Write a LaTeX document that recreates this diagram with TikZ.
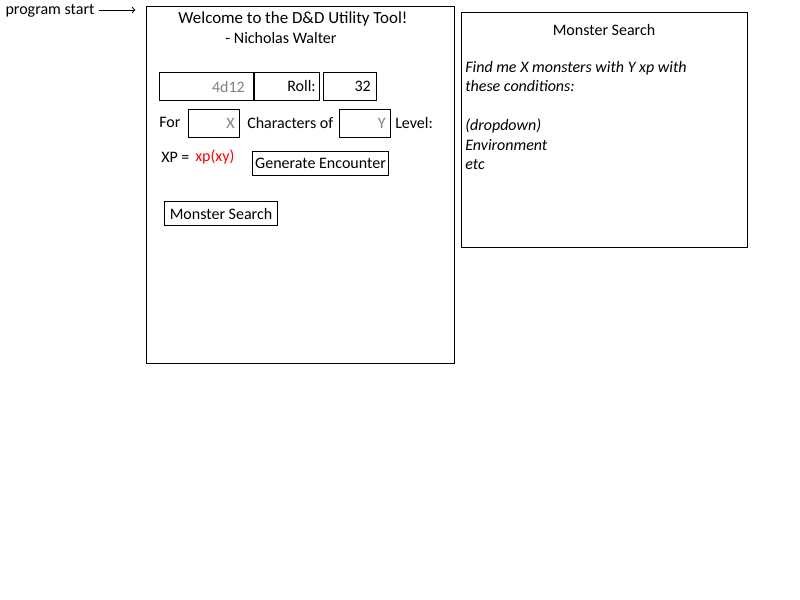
\documentclass[tikz,border=0pt]{standalone}
\usepackage{fontspec}
\setmainfont{Carlito}
\usepackage{xcolor}
\usetikzlibrary{arrows,positioning}
\definecolor{hintgray}{RGB}{128,128,128}
\definecolor{xpred}{RGB}{255,0,0}
\tikzset{>=to,
         every node/.style={font=\fontsize{12pt}{14.6pt}\selectfont},
         uibox/.style 2 args={draw, line width=0.75pt, anchor=north west,
            minimum width=#1*0.75pt, minimum height=#2*0.75pt, inner sep=0pt}}
\tikzstyle{txt}=[inner sep=0pt]
\tikzstyle{hint}=[txt, text=hintgray]

\begin{document}
\begin{tikzpicture}[x=0.75pt,y=-0.75pt]
  \useasboundingbox (0,0) rectangle (800,600);
  % main window
  \node (start) at (50,11) {program start};
  \node[uibox={308}{357}] (main) at (146,6) {};
  \draw[->, line width=0.75pt, shorten >=8pt] ([yshift=0.75pt]start.east) -- ([yshift=0.75pt]start.east -| main.west);
  \node[font=\fontsize{12.7pt}{14.6pt}\selectfont] (welcome) at (293,19) {Welcome to the D\&D Utility Tool!};
  \node (author) at (281,38) {- Nicholas Walter};
  % dice roller
  \node[uibox={94}{28}] (dice) at (159,72) {};
  \node[hint, left=6.75pt of dice.east] (dicetxt) {4d12};
  \node[uibox={65}{28}] (roll) at (254,72) {};
  \node[txt, left=3pt of roll.east] (rolltxt) {Roll:};
  \node[uibox={53}{28}] (result) at (323,72) {};
  \node[txt, left=4.5pt of result.east] (resulttxt) {32};
  % encounter
  \node[txt, anchor=west] (for) at (159,122) {For};
  \node[uibox={51}{28}] (xbox) at (188,109) {};
  \node[hint, left=3.75pt of xbox.east] (xtxt) {X};
  \node[txt, anchor=west] (chars) at (247,123) {Characters of};
  \node[uibox={51}{28}] (ybox) at (339,109) {};
  \node[hint, left=3.75pt of ybox.east] (ytxt) {Y};
  \node[txt, anchor=west] (level) at (395,123) {Level:};
  \node[txt, anchor=west] (xp) at (161,157) {XP =};
  \node[txt, anchor=west, text=xpred] (xpval) at (195,157) {xp(xy)};
  \node[uibox={136}{24}] (generate) at (252,151) {Generate Encounter};
  \node[uibox={113}{24}] (searchbtn) at (164,201) {Monster Search};
  % search window
  \node[uibox={286}{235}] (search) at (461,12) {};
  \node (searchtitle) at (604,30) {Monster Search};
  \node[txt, anchor=north west, align=left, font=\fontsize{12pt}{14.6pt}\selectfont\itshape]
    (conditions) at (465,61)
    {Find me X monsters with Y xp with\\ these conditions:\\[14.6pt]
     (dropdown)\\ Environment\\ etc};
\end{tikzpicture}
\end{document}
